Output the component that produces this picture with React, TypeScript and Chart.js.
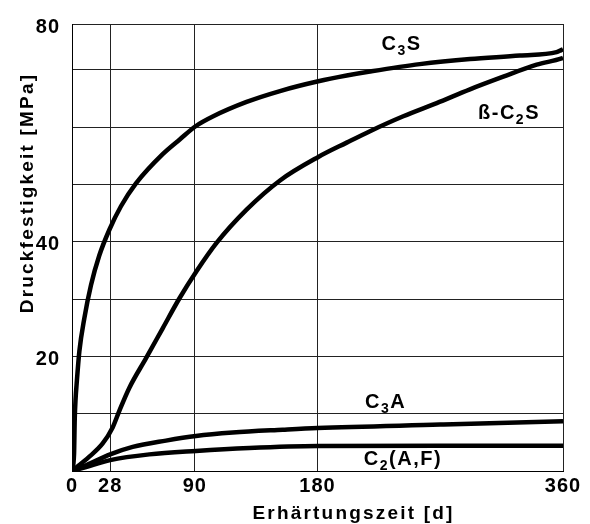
import { useEffect, useRef } from 'react';
import { Chart, registerables } from 'chart.js';

Chart.register(...registerables);

// ---- axis values ----
const xTickValues = [0, 28, 90, 180, 360];
const xTickLabels = ['0', '28', '90', '180', '360'];
const yGridValues = [0, 10, 20, 30, 40, 50, 60, 70, 78];
const yTickLabels = ['', '', '20', '', '40', '', '', '', '80'];

// ---- series (time in days, strength in MPa) ----
const c3sX = [0, 1.5, 2, 2.6, 3.4, 5.4, 9, 13.9, 20, 27.4, 35.9, 46.9, 66.5, 79.2, 90.9, 103.6, 128, 152.5, 180.6, 201.4, 218.5, 255, 291.8, 328.4, 355.3, 358.3, 360];
const c3sY = [0, 3, 9, 12.5, 15.2, 20.9, 26.6, 32.4, 37.6, 42.1, 46.2, 50.2, 55.3, 57.9, 60.2, 61.9, 64.4, 66.3, 68.0, 69.0, 69.7, 71.0, 71.9, 72.5, 73.1, 73.4, 73.6];

const c2sX = [0, 12.7, 22.5, 29.8, 34.7, 42, 54.3, 66.5, 78.7, 91.4, 106, 128, 152.5, 180.6, 201.4, 218.5, 242.9, 267.4, 291.8, 316.2, 340.7, 359, 360];
const c2sY = [0, 2.5, 4.8, 7.6, 10.5, 14.5, 19.7, 24.9, 30.1, 34.9, 39.8, 45.6, 50.7, 54.8, 57.3, 59.3, 61.9, 64.2, 66.6, 68.8, 70.9, 72.0, 72.1];

const c3aX = [0, 10.3, 28, 44.5, 68.9, 90.9, 117.8, 154.5, 180, 270, 360];
const c3aY = [0, 1.0, 2.9, 4.2, 5.3, 6.1, 6.7, 7.2, 7.5, 8.1, 8.7];

const c2afX = [0, 10.3, 28, 56.7, 90.9, 130, 180, 270, 360];
const c2afY = [0, 0.7, 1.9, 2.9, 3.5, 4.0, 4.35, 4.4, 4.4];

// ---- curve labels: text parts (sub = subscript) and anchor in data units ----
const labelTexts = [
  [{ t: 'C' }, { t: '3', sub: true }, { t: 'S' }],
  [{ t: 'ß-C' }, { t: '2', sub: true }, { t: 'S' }],
  [{ t: 'C' }, { t: '3', sub: true }, { t: 'A' }],
  [{ t: 'C' }, { t: '2', sub: true }, { t: '(A,F)' }],
];
const labelAnchorX = [227, 297.7, 214.8, 214];
const labelAnchorY = [73.4, 61.4, 11.0, 1.0];

const FONT = '"Liberation Sans", Arial, Helvetica, sans-serif';

const toPoints = (xs: number[], ys: number[]) => xs.map((x, i) => ({ x, y: ys[i] }));

const annotPlugin = {
  id: 'annot',
  beforeDraw(chart: any) {
    chart.ctx.letterSpacing = '1px';
  },
  afterDraw(chart: any) {
    const ctx = chart.ctx as CanvasRenderingContext2D;
    const xs = chart.scales.x;
    const ys = chart.scales.y;
    ctx.save();
    ctx.fillStyle = '#000';
    ctx.textBaseline = 'alphabetic';
    ctx.textAlign = 'left';
    (ctx as any).letterSpacing = '1.5px';
    labelTexts.forEach((parts, i) => {
      let px = xs.getPixelForValue(labelAnchorX[i]);
      const py = ys.getPixelForValue(labelAnchorY[i]);
      parts.forEach((p: any) => {
        ctx.font = p.sub ? `bold 14px ${FONT}` : `bold 20px ${FONT}`;
        ctx.fillText(p.t, px, p.sub ? py + 5 : py);
        px += ctx.measureText(p.t).width;
      });
    });
    // axis titles
    (ctx as any).letterSpacing = '2.2px';
    ctx.font = `bold 19px ${FONT}`;
    ctx.textAlign = 'center';
    const area = chart.chartArea;
    ctx.fillText('Erhärtungszeit [d]', (area.left + area.right) / 2 + 36, 519);
    ctx.translate(33, 193);
    ctx.rotate(-Math.PI / 2);
    ctx.fillText('Druckfestigkeit [MPa]', 0, 0);
    ctx.restore();
  },
};

export default function App() {
  const ref = useRef<HTMLCanvasElement>(null);
  useEffect(() => {
    document.body.style.margin = '0';
    const mk = (xs: number[], ys: number[]) => ({
      data: toPoints(xs, ys),
      borderColor: '#000',
      borderWidth: 4.5,
      pointRadius: 0,
      cubicInterpolationMode: 'monotone' as const,
      fill: false,
    });
    const chart = new Chart(ref.current!, {
      type: 'line',
      data: {
        datasets: [mk(c3sX, c3sY), mk(c2sX, c2sY), mk(c3aX, c3aY), mk(c2afX, c2afY)],
      },
      options: {
        responsive: false,
        animation: false,
        layout: { padding: { top: 17, right: 27, left: 0, bottom: 0 } },
        plugins: { legend: { display: false }, tooltip: { enabled: false } },
        scales: {
          x: {
            type: 'linear',
            min: 0,
            max: 360,
            afterBuildTicks: (s: any) => {
              s.ticks = xTickValues.map((v) => ({ value: v }));
            },
            afterFit: (s: any) => {
              s.height = 53;
            },
            ticks: {
              autoSkip: false,
              maxRotation: 0,
              padding: 3,
              color: '#000',
              font: { family: FONT, size: 20, weight: 'bold' },
              callback: (v: any) => {
                const i = xTickValues.indexOf(Number(v));
                return i >= 0 ? xTickLabels[i] : '';
              },
            },
            grid: { color: '#222', lineWidth: 1, drawTicks: false },
            border: { color: '#000', width: 1 },
          },
          y: {
            type: 'linear',
            min: 0,
            max: 78,
            afterBuildTicks: (s: any) => {
              s.ticks = yGridValues.map((v) => ({ value: v }));
            },
            afterFit: (s: any) => {
              s.width = 72;
            },
            ticks: {
              autoSkip: false,
              padding: 12,
              labelOffset: 3,
              color: '#000',
              font: { family: FONT, size: 20, weight: 'bold' },
              callback: (v: any) => {
                const i = yGridValues.indexOf(Number(v));
                return i >= 0 ? yTickLabels[i] : '';
              },
            },
            grid: { color: '#222', lineWidth: 1, drawTicks: false },
            border: { color: '#000', width: 1 },
          },
        },
      },
      plugins: [annotPlugin],
    });
    return () => chart.destroy();
  }, []);
  return (
    <div style={{ position: 'absolute', left: 0, top: 0, width: 590, height: 524 }}>
      <canvas ref={ref} width={590} height={524} />
    </div>
  );
}
